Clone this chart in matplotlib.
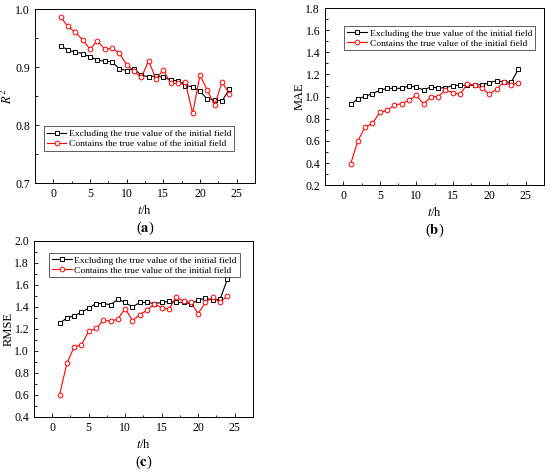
import numpy as np
import matplotlib.pyplot as plt

plt.rcParams['font.family'] = ['Liberation Serif', 'DejaVu Serif']
plt.rcParams['mathtext.fontset'] = 'stix'

t = np.arange(1, 25)

r2_excl = [0.937, 0.929, 0.926, 0.923, 0.918, 0.912, 0.910, 0.909, 0.897, 0.894, 0.897, 0.886,
           0.883, 0.885, 0.882, 0.878, 0.876, 0.868, 0.866, 0.858, 0.845, 0.844, 0.841, 0.862]
r2_cont = [0.986, 0.970, 0.960, 0.947, 0.931, 0.945, 0.931, 0.932, 0.924, 0.904, 0.893, 0.882,
           0.911, 0.879, 0.895, 0.872, 0.872, 0.874, 0.820, 0.886, 0.860, 0.834, 0.874, 0.854]

mae_excl = [0.93, 0.979, 1.003, 1.027, 1.057, 1.075, 1.075, 1.075, 1.097, 1.085, 1.060, 1.088,
            1.078, 1.081, 1.100, 1.103, 1.103, 1.103, 1.109, 1.124, 1.145, 1.133, 1.130, 1.247]
mae_cont = [0.390, 0.601, 0.725, 0.758, 0.858, 0.876, 0.924, 0.937, 0.967, 1.012, 0.934, 0.997,
            1.000, 1.060, 1.036, 1.021, 1.115, 1.106, 1.075, 1.024, 1.066, 1.133, 1.103, 1.127]

rmse_excl = [1.25, 1.30, 1.32, 1.35, 1.39, 1.43, 1.43, 1.42, 1.47, 1.44, 1.40, 1.44,
             1.44, 1.43, 1.44, 1.45, 1.44, 1.44, 1.43, 1.46, 1.48, 1.46, 1.47, 1.65]
rmse_cont = [0.60, 0.886, 1.036, 1.057, 1.177, 1.204, 1.277, 1.27, 1.29, 1.385, 1.274, 1.33,
             1.37, 1.43, 1.39, 1.38, 1.49, 1.45, 1.44, 1.34, 1.44, 1.49, 1.44, 1.50]

lab_excl = 'Excluding the true value of the initial field'
lab_cont = 'Contains the true value of the initial field'


def draw_panel(ax, y1, y2, ylim, yticks, ylabel, letter, leg_pos):
    ax.plot(t, y1, '-s', color='black', lw=0.8, ms=3.2, mfc='white', mew=0.7, label=lab_excl)
    ax.plot(t, y2, '-o', color='red', lw=0.8, ms=3.4, mfc='white', mew=0.7, label=lab_cont)
    ax.set_xlim(-2.5, 27.5)
    ax.set_xticks([0, 5, 10, 15, 20, 25])
    ax.set_xticks([2.5, 7.5, 12.5, 17.5, 22.5], minor=True)
    ax.set_ylim(*ylim)
    ax.set_yticks(yticks)
    mids = [(a + b) / 2 for a, b in zip(yticks[:-1], yticks[1:])]
    ax.set_yticks(mids, minor=True)
    ax.tick_params(which='both', direction='in', labelsize=8.5, width=0.6, pad=3.5)
    ax.tick_params(which='major', length=3)
    ax.tick_params(which='minor', length=1.8)
    for s in ax.spines.values():
        s.set_linewidth(0.7)
    ax.set_xlabel('$t$/h', fontsize=9, labelpad=3)
    ax.set_ylabel(ylabel, fontsize=9, labelpad=0)
    ax.legend(loc='upper left', bbox_to_anchor=leg_pos, fontsize=6.8, frameon=True,
              fancybox=False, edgecolor='#444444', framealpha=1, borderpad=0.3,
              handlelength=2.1, handletextpad=0.3, labelspacing=0.15, borderaxespad=0)
    ax.legend_.get_frame().set_linewidth(0.6)
    # panel letter 45 px under the axes
    ax.annotate(letter, xy=(0.5, 0), xycoords='axes fraction', xytext=(0, -45),
                textcoords='offset pixels', ha='center', va='center', fontsize=10.5)


fig = plt.figure(figsize=(5.5, 4.76), dpi=100)
ax_a = fig.add_axes([0.0636, 0.6155, 0.40, 0.3655])
ax_b = fig.add_axes([0.591, 0.611, 0.398, 0.372])
ax_c = fig.add_axes([0.0618, 0.124, 0.398, 0.37])

draw_panel(ax_a, r2_excl, r2_cont, (0.7, 1.0), [0.7, 0.8, 0.9, 1.0], '$R^2$',
           '(' + r'$\mathbf{a}$' + ')', (0.04, 0.325))
draw_panel(ax_b, mae_excl, mae_cont, (0.2, 1.8), [0.2, 0.4, 0.6, 0.8, 1.0, 1.2, 1.4, 1.6, 1.8],
           'MAE', '(' + r'$\mathbf{b}$' + ')', (0.087, 0.898))
draw_panel(ax_c, rmse_excl, rmse_cont, (0.4, 2.0), [0.4, 0.6, 0.8, 1.0, 1.2, 1.4, 1.6, 1.8, 2.0],
           'RMSE', '(' + r'$\mathbf{c}$' + ')', (0.068, 0.93))

fig.savefig('out.png', dpi=100)
